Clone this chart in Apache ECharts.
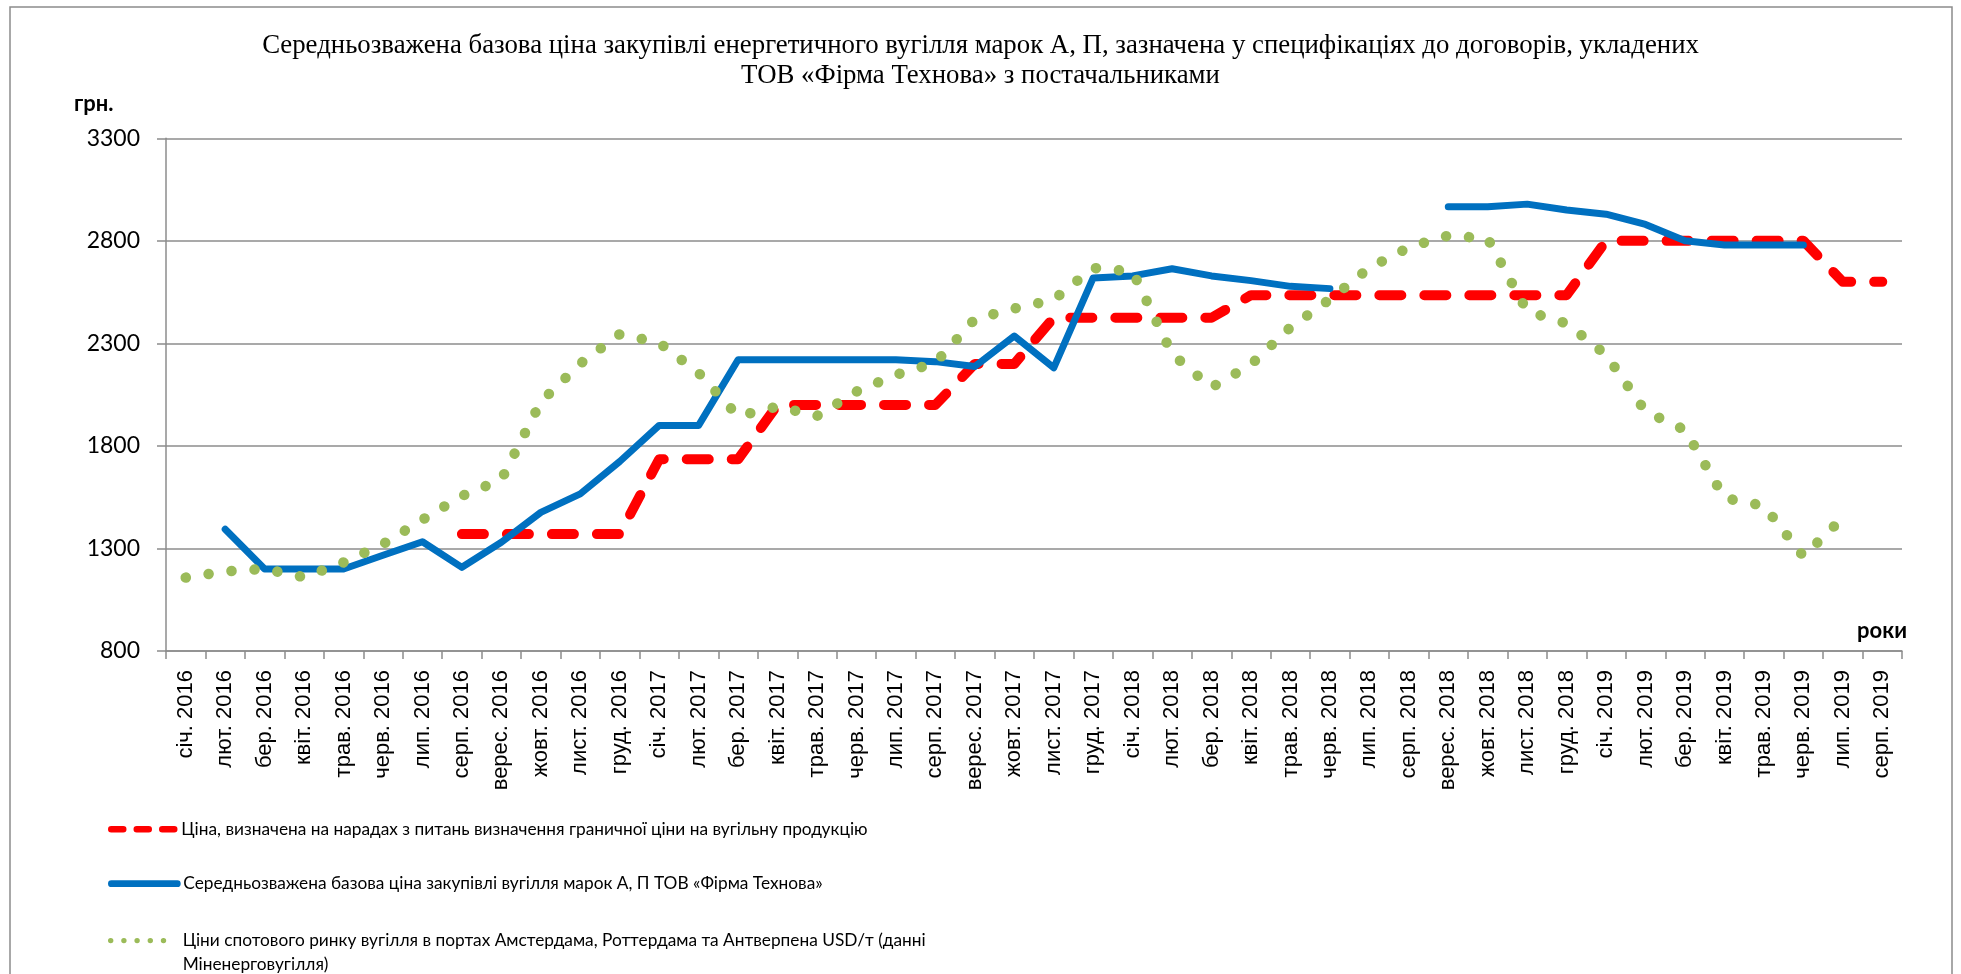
<!DOCTYPE html>
<html>
<head>
<meta charset="utf-8">
<script src="https://cdn.jsdelivr.net/npm/echarts@6/dist/echarts.min.js"></script>
<style>
  html, body { margin: 0; padding: 0; background: #fff; }
  #chart { width: 1961px; height: 974px; }
</style>
</head>
<body>
<div id="chart"></div>
<script>
// ---- data ----
const months = [
  'січ. 2016','лют. 2016','бер. 2016','квіт. 2016','трав. 2016','черв. 2016','лип. 2016','серп. 2016','верес. 2016','жовт. 2016','лист. 2016','груд. 2016',
  'січ. 2017','лют. 2017','бер. 2017','квіт. 2017','трав. 2017','черв. 2017','лип. 2017','серп. 2017','верес. 2017','жовт. 2017','лист. 2017','груд. 2017',
  'січ. 2018','лют. 2018','бер. 2018','квіт. 2018','трав. 2018','черв. 2018','лип. 2018','серп. 2018','верес. 2018','жовт. 2018','лист. 2018','груд. 2018',
  'січ. 2019','лют. 2019','бер. 2019','квіт. 2019','трав. 2019','черв. 2019','лип. 2019','серп. 2019'
];

const meetingPrice = [
  null, null, null, null, null, null, null,
  1370, 1370, 1370, 1370, 1370,
  1735, 1735, 1735,
  2000, 2000, 2000, 2000, 2000,
  2200, 2200,
  2425, 2425, 2425, 2425, 2425,
  2535, 2535, 2535, 2535, 2535, 2535, 2535, 2535, 2535,
  2800, 2800, 2800, 2800, 2800, 2800,
  2600, 2600
];

const technovaPrice = [
  null, 1394, 1200, 1200, 1200, 1267, 1333, 1208, 1330, 1476, 1566, 1724,
  1900, 1900, 2220, 2220, 2220, 2220, 2220, 2211, 2187, 2336, 2181, 2619,
  2629, 2664, 2629, 2606, 2578, 2567, null, null, 2966, 2966, 2979, 2950,
  2930, 2880, 2800, 2780, 2780, 2780, null, null
];

const spotPrice = [
  1158, 1188, 1200, 1160, 1232, 1321, 1440, 1556, 1636, 2015, 2201, 2345,
  2303, 2156, 1945, 1992, 1946, 2065, 2147, 2205, 2418, 2470, 2513, 2668,
  2650, 2248, 2085, 2197, 2378, 2515, 2668, 2768, 2826, 2811, 2457, 2397,
  2244, 1968, 1878, 1546, 1508, 1262, 1450, null
];

const yTicks = { min: 800, max: 3300, step: 500 };

const names = {
  meeting: 'Ціна, визначена на нарадах з питань визначення граничної ціни на вугільну продукцію',
  technova: 'Середньозважена базова ціна закупівлі вугілля марок А, П ТОВ «Фірма Технова»',
  spot: 'Ціни спотового ринку вугілля в портах Амстердама, Роттердама та Антверпена USD/т (данні',
  spot2: 'Міненерговугілля)'
};

const titleText = 'Середньозважена базова ціна закупівлі енергетичного вугілля марок А, П, зазначена у специфікаціях до договорів, укладених\nТОВ «Фірма Технова» з постачальниками';

// ---- chart ----
const chart = echarts.init(document.getElementById('chart'), null, { renderer: 'canvas' });
const gray = '#8c8c8c';
const legendFont = { fontFamily: 'Lato', fontSize: 17.3, color: '#000', lineHeight: 23.4, padding: [0, 0, 0, 1] };

chart.setOption({
  animation: false,
  backgroundColor: '#fff',
  title: {
    text: titleText,
    left: 'center',
    top: 31,
    padding: 0,
    textStyle: { fontFamily: 'Liberation Serif', fontSize: 26.8, fontWeight: 'normal', color: '#000', lineHeight: 30 }
  },
  graphic: [
    { type: 'rect', shape: { x: 10, y: 7, width: 1942, height: 1000 }, style: { fill: 'none', stroke: gray, lineWidth: 1.5 }, silent: true },
    { type: 'text', left: 74, top: 93, style: { text: 'грн.', font: 'bold 22px Lato', fill: '#000' } },
    { type: 'text', right: 54, top: 620, style: { text: 'роки', font: 'bold 22px Lato', fill: '#000' } }
  ],
  legend: [
    {
      data: [names.meeting], left: 108, top: 817.5, padding: 0, orient: 'vertical',
      itemWidth: 64, itemHeight: 14, textStyle: legendFont,
      itemStyle: { opacity: 0 },
      lineStyle: { width: 6.5, type: [12, 13.5], cap: 'round', color: '#FF0000' }
    },
    {
      data: [names.technova], left: 108, top: 872, padding: 0, orient: 'vertical',
      itemWidth: 66, itemHeight: 14, textStyle: legendFont,
      itemStyle: { opacity: 0 },
      lineStyle: { width: 6.7, type: 'solid', cap: 'round', color: '#0070C0' }
    },
    {
      data: [names.spot], left: 108, top: 905.5, padding: 0, orient: 'vertical',
      itemWidth: 66, itemHeight: 14, textStyle: legendFont,
      itemStyle: { opacity: 0 },
      lineStyle: { width: 5.3, type: [0.1, 13.1], cap: 'round', color: '#9BBB59' },
      formatter: function (n) { return ' \n' + n + '\n' + names.spot2; }
    }
  ],
  grid: { left: 166, right: 59, top: 138.3, bottom: 323, containLabel: false },
  xAxis: {
    type: 'category',
    data: months,
    boundaryGap: true,
    axisLine: { show: true, lineStyle: { color: gray, width: 1.5 } },
    axisTick: { show: true, interval: 0, length: 8, lineStyle: { color: gray, width: 1.5 } },
    axisLabel: { interval: 0, rotate: 90, margin: 19, fontFamily: 'Liberation Sans', fontSize: 22, color: '#000' },
    splitLine: { show: false }
  },
  yAxis: {
    type: 'value',
    min: yTicks.min, max: yTicks.max, interval: yTicks.step,
    axisLine: { show: true, lineStyle: { color: gray, width: 1.5 } },
    axisTick: { show: true, length: 9, lineStyle: { color: gray, width: 1.5 } },
    axisLabel: { margin: 26, fontFamily: 'Lato', fontSize: 23, color: '#000', formatter: function (v) { return String(v); } },
    splitLine: { show: true, lineStyle: { color: gray, width: 1.5 } }
  },
  series: [
    {
      name: names.meeting, type: 'line', data: meetingPrice, symbol: 'none', connectNulls: false,
      lineStyle: { color: '#FF0000', width: 10, type: [22, 23], cap: 'round', join: 'round' },
      itemStyle: { color: '#FF0000' }, z: 2
    },
    {
      name: names.technova, type: 'line', data: technovaPrice, symbol: 'none', connectNulls: false,
      lineStyle: { color: '#0070C0', width: 7, type: 'solid', cap: 'round', join: 'round' },
      itemStyle: { color: '#0070C0' }, z: 3
    },
    {
      name: names.spot, type: 'line', data: spotPrice, symbol: 'none', connectNulls: false,
      lineStyle: { color: '#9BBB59', width: 10.5, type: [0.1, 23], cap: 'round', join: 'round' },
      itemStyle: { color: '#9BBB59' }, z: 4
    }
  ]
});
</script>
</body>
</html>
